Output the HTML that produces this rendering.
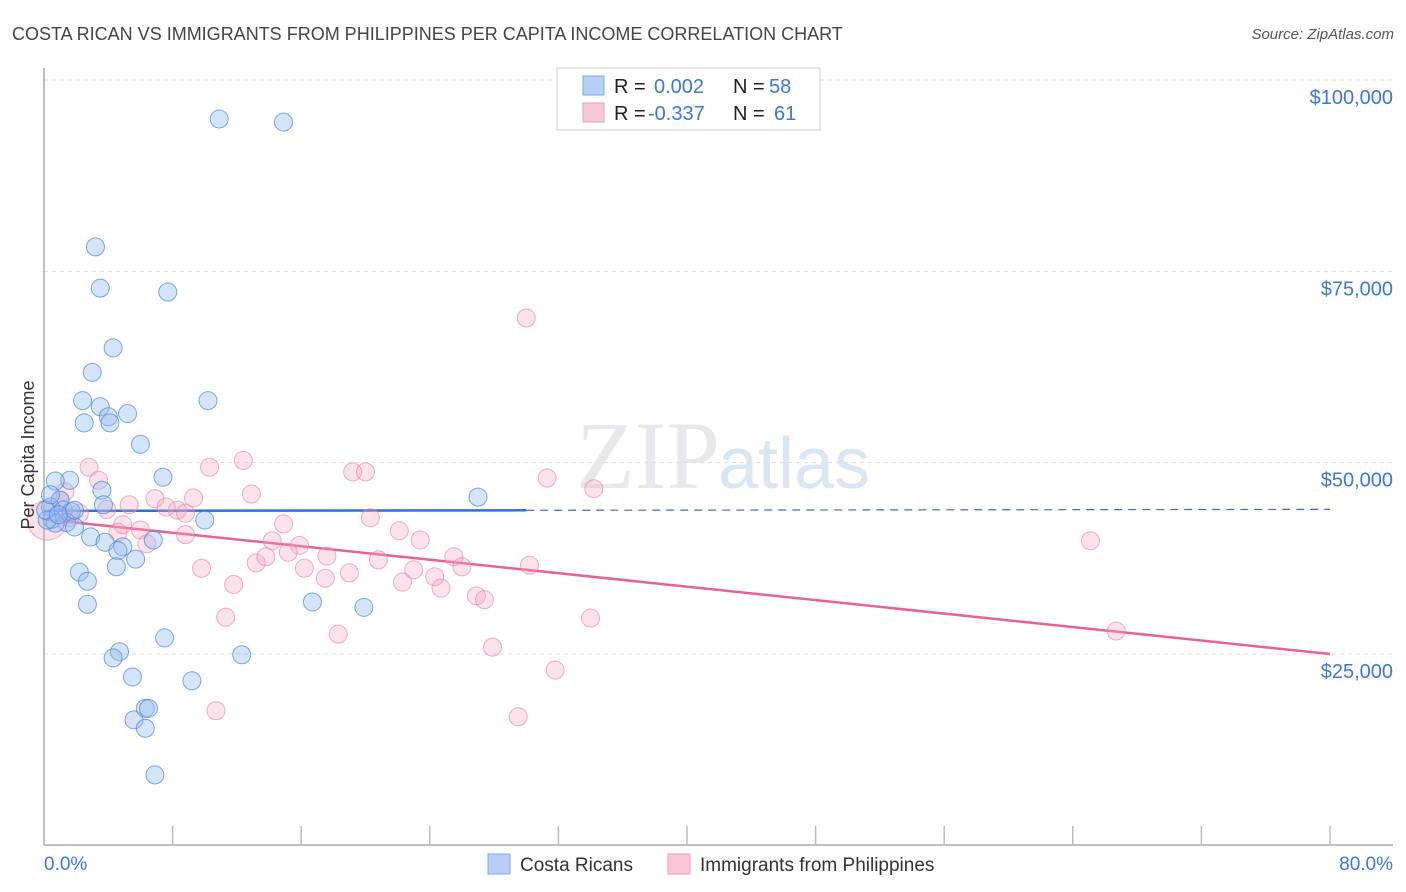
<!DOCTYPE html>
<html><head><meta charset="utf-8"><style>
body{margin:0;background:#fff;font-family:"Liberation Sans",sans-serif;}
#wrap{position:relative;width:1406px;height:892px;overflow:hidden;}
</style></head><body>
<div id="wrap">
<svg id="svg" width="1406" height="892" xmlns="http://www.w3.org/2000/svg">
<text x="12" y="40" font-size="18" fill="#444">COSTA RICAN VS IMMIGRANTS FROM PHILIPPINES PER CAPITA INCOME CORRELATION CHART</text>
<text x="1394" y="39" font-size="15" fill="#555" font-style="italic" text-anchor="end">Source: ZipAtlas.com</text>
<text x="720" y="488" font-size="96" fill="#e8e8ec" text-anchor="end" font-family="Liberation Serif,serif">ZIP</text>
<text x="718" y="488" font-size="72" fill="#dbe6f5">atlas</text>
<g id="grid"></g><g id="axes"></g><g id="trend"></g><g id="pts"></g>
<text x="34" y="455" font-size="18" fill="#333" text-anchor="middle" transform="rotate(-90 34 455)">Per Capita Income</text>
<text x="44" y="870" font-size="19" fill="#3a78d4">0.0%</text>
<text x="1393" y="870" font-size="19" fill="#3a78d4" text-anchor="end">80.0%</text>
<g>
<rect x="488" y="854" width="22" height="20" fill="#b8d0f5" stroke="#7aa6e6"/>
<text x="520" y="871" font-size="19" fill="#333">Costa Ricans</text>
<rect x="668" y="854" width="22" height="20" fill="#f8c8d6" stroke="#eaa0b8"/>
<text x="700" y="871" font-size="19" fill="#333">Immigrants from Philippines</text>
</g>
<g>
<rect x="557" y="68" width="263" height="62" fill="#fff" stroke="#ccc"/>
<rect x="583" y="76" width="21" height="19" fill="#b8d0f5" stroke="#7aa6e6"/>
<rect x="583" y="103" width="21" height="19" fill="#f8c8d6" stroke="#eaa0b8"/>
<text x="614" y="93" font-size="20" fill="#222">R = <tspan x="654" fill="#3a78d4">0.002</tspan><tspan x="733" fill="#222">N = </tspan><tspan x="769" fill="#3a78d4">58</tspan></text>
<text x="614" y="120" font-size="20" fill="#222">R = <tspan x="648" fill="#3a78d4">-0.337</tspan><tspan x="733" fill="#222">N = </tspan><tspan x="774" fill="#3a78d4">61</tspan></text>
</g>
</svg>
</div>
<script>
const yTicks=[25000,50000,75000,100000];
const yTickLabels=["$25,000","$50,000","$75,000","$100,000"];
const blueX=[10.9,14.9,3.2,3.5,7.7,4.3,3.0,2.4,10.2,3.5,4.0,5.2,2.5,4.1,6.0,7.4,1.6,0.7,3.6,27.0,1.0,3.7,0.4,1.2,1.7,0.5,10.0,1.4,0.7,1.9,2.9,3.8,4.9,6.8,4.6,5.7,4.5,2.2,2.7,2.7,16.7,19.9,7.5,4.7,4.3,12.3,5.5,9.2,5.6,6.3,6.5,6.3,6.9,0.2,0.1,0.9,1.9,0.4];
const blueY=[94.9,94.5,78.2,72.8,72.3,65.0,61.8,58.1,58.1,57.3,56.0,56.4,55.2,55.2,52.4,48.1,47.7,47.6,46.4,45.5,45.1,44.5,44.2,43.8,43.6,42.6,42.5,42.2,42.1,41.6,40.3,39.6,39.0,39.9,38.5,37.4,36.4,35.7,34.5,31.5,31.8,31.1,27.1,25.3,24.5,24.9,22.0,21.5,16.4,17.9,17.9,15.3,9.2,42.5,43.8,43.2,43.8,45.8];
const pinkX=[30.0,12.4,2.8,10.3,19.2,20.0,31.3,3.4,34.2,1.3,12.9,6.9,9.3,5.3,8.3,3.9,7.6,2.2,8.8,1.6,8.8,4.9,6.0,20.3,14.9,22.1,23.4,4.6,6.4,14.2,15.9,65.1,15.2,17.6,25.5,26.0,30.2,13.2,13.8,16.2,19.0,23.0,20.8,17.5,22.3,24.3,24.7,11.8,26.9,27.4,9.8,11.3,34.0,18.3,66.7,27.9,31.8,10.7,29.5,1.0,0.2];
const pinkY=[68.9,50.3,49.4,49.4,48.8,48.8,48.0,47.7,46.6,46.2,45.9,45.3,45.4,44.5,43.8,43.9,44.2,43.4,43.4,42.8,40.6,41.9,41.2,42.8,42.0,41.1,39.9,40.9,39.4,39.8,39.2,39.8,38.3,37.8,37.7,36.4,36.6,36.9,37.7,36.2,35.6,36.0,37.3,34.9,34.4,35.1,33.6,34.1,32.6,32.1,36.2,29.8,29.7,27.6,28.0,25.9,22.9,17.6,16.8,45.1,42.5];
const blueTrend=[43.7,43.9];
const pinkTrend=[42.6,25.0];
const NS="http://www.w3.org/2000/svg";
const X0=44,X1=1330,YB=845;
function sx(v){return X0+v/80*(X1-X0);}
function sy(k){return 80+(100-k)*574/75;}
function mk(tag,attrs,parent){const e=document.createElementNS(NS,tag);for(const k in attrs)e.setAttribute(k,attrs[k]);parent.appendChild(e);return e;}
const grid=document.getElementById('grid'),axes=document.getElementById('axes'),trend=document.getElementById('trend'),pts=document.getElementById('pts');
yTicks.forEach((t,i)=>{
  const y=sy(t/1000);
  const l=mk('line',{x1:X0,x2:1393,y1:y,y2:y,stroke:'#ddd','stroke-dasharray':'4,4'},grid);
  
  
  const tx=mk('text',{x:1393,y:y+24,'font-size':20,fill:'#3a78d4','text-anchor':'end'},grid);
  tx.textContent=yTickLabels[i];
  
  
});
const ya=mk('line',{x1:X0,x2:X0,y1:68,y2:YB,stroke:'#aaa','stroke-width':1.5},axes);


const xa=mk('line',{x1:X0,x2:1393,y1:YB,y2:YB,stroke:'#aaa','stroke-width':1.5},axes);


for(let i=1;i<=10;i++){
  const x=sx(i*8);
  const t=mk('line',{x1:x,x2:x,y1:826,y2:YB,stroke:'#bbb','stroke-width':1.5},axes);
  
  
}
function bt(v){return blueTrend[0]+(blueTrend[1]-blueTrend[0])*v/80;}
const bl=mk('line',{x1:sx(0),y1:sy(bt(0)),x2:sx(30),y2:sy(bt(30)),stroke:'#2f6fd6','stroke-width':2.5},trend);


const bd=mk('line',{x1:sx(30),y1:sy(bt(30)),x2:sx(80),y2:sy(bt(80)),stroke:'#2f6fd6','stroke-width':1.2,'stroke-dasharray':'8,6'},trend);


const pl=mk('line',{x1:sx(0),y1:sy(pinkTrend[0]),x2:sx(80),y2:sy(pinkTrend[1]),stroke:'#e8628f','stroke-width':2.5},trend);


pinkX.forEach((v,i)=>{
  const big=(i===pinkX.length-1);
  const c=mk('circle',{cx:sx(v),cy:sy(pinkY[i]),r:big?20:9,fill:'rgba(244,165,192,0.32)',stroke:'rgba(232,130,165,0.65)','stroke-width':1},pts);
  
  
});
blueX.forEach((v,i)=>{
  const c=mk('circle',{cx:sx(v),cy:sy(blueY[i]),r:9,fill:'rgba(150,190,240,0.4)',stroke:'rgba(70,130,220,0.7)','stroke-width':1},pts);
  
  
});
</script>
</body></html>
